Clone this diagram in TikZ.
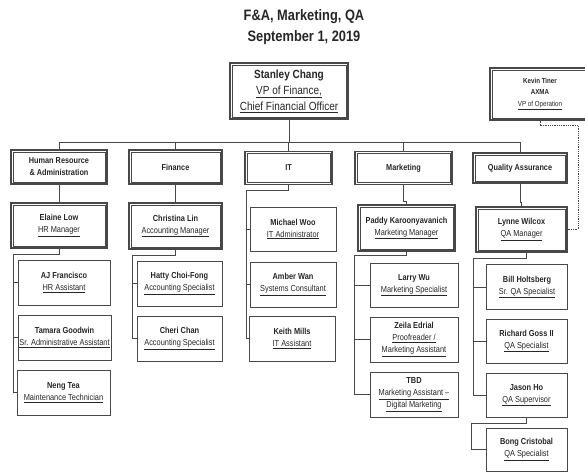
\documentclass[tikz,border=0pt]{standalone}
\usepackage{fontspec}
\setmainfont{Liberation Sans}[FakeStretch=0.85]
\usetikzlibrary{calc}

\definecolor{ink}{HTML}{262626}
\definecolor{frame}{HTML}{484848}

% a name in bold over its underlined job title
\newcommand\staff[2]{\textbf{#1}\\\underline{#2}}

\tikzset{
  lbl/.style={text=ink, align=center, inner sep=0pt, font=\fontsize{8.7}{12}\selectfont},
  dbox/.style={lbl, draw=frame, line width=1.1pt,
    path picture={\draw[frame, line width=0.5pt]
      ([shift={(2.2pt,-2.2pt)}]path picture bounding box.north west) rectangle
      ([shift={(-2.2pt,2.2pt)}]path picture bounding box.south east);}},
  sbox/.style={lbl, draw=frame, line width=0.6pt},
  deptfont/.style={font=\fontsize{8.6}{12}\selectfont\bfseries},
  link/.style={draw=frame, line width=0.6pt},
  dotlink/.style={draw=frame, line width=0.7pt, dash pattern=on 1pt off 0.8pt},
  heading/.style={text=ink, inner sep=0pt, font=\fontsize{15.1}{18}\selectfont\bfseries},
}

\begin{document}
\begin{tikzpicture}[x=1pt, y=-1pt]
\useasboundingbox (0,0) rectangle (585,472);

% heading
\node[heading] (title) at (304,17) {F\&A, Marketing, QA};
\node[heading] (date)  at (304,38) {September 1, 2019};

% top level
\node[dbox, minimum width=118pt, minimum height=56pt,
      font=\fontsize{11.8}{16}\selectfont] (vp) at (289,91)
  {\textbf{Stanley Chang}\\\underline{VP of Finance,}\\\underline{Chief Financial Officer}};
\node[dbox, minimum width=100pt, minimum height=52pt,
      font=\fontsize{7.3}{11.5}\selectfont] (kevin) at (540,94)
  {\textbf{Kevin Tiner}\\\textbf{AXMA}\\\underline{VP of Operation}};

% departments
\node[dbox, deptfont, minimum width=96pt, minimum height=34pt] (hr)  at (59,167)
  {Human Resource\\\& Administration};
\node[dbox, deptfont, minimum width=93pt, minimum height=34pt] (fin) at (175.5,167) {Finance};
\node[dbox, deptfont, minimum width=87pt, minimum height=33pt] (it)  at (288.5,168) {IT};
\node[dbox, deptfont, minimum width=97pt, minimum height=33pt] (mkt) at (403.5,168) {Marketing};
\node[dbox, deptfont, minimum width=94pt, minimum height=30pt] (qa)  at (520,168) {Quality Assurance};

% managers
\node[dbox, minimum width=96pt, minimum height=45pt] (elaine)    at (59,225.5)  {\staff{Elaine Low}{HR Manager}};
\node[dbox, minimum width=93pt, minimum height=46pt] (christina) at (175.5,226) {\staff{Christina Lin}{Accounting Manager}};
\node[dbox, minimum width=97pt, minimum height=46pt] (paddy)     at (406.5,228) {\staff{Paddy Karoonyavanich}{Marketing Manager}};
\node[dbox, minimum width=91pt, minimum height=45pt] (lynne)     at (521.5,229.5) {\staff{Lynne Wilcox}{QA Manager}};

% human resource staff
\node[sbox, minimum width=92pt, minimum height=45pt] (aj)     at (64,282.5) {\staff{AJ Francisco}{HR Assistant}};
\node[sbox, minimum width=93pt, minimum height=45pt] (tamara) at (64.5,337.5) {\staff{Tamara Goodwin}{Sr. Administrative Assistant}};
\node[sbox, minimum width=93pt, minimum height=45pt] (neng)   at (63.5,392.5) {\staff{Neng Tea}{Maintenance Technician}};

% finance staff
\node[sbox, minimum width=85pt, minimum height=45pt] (hatty) at (179.5,283.5) {\staff{Hatty Choi-Fong}{Accounting Specialist}};
\node[sbox, minimum width=85pt, minimum height=45pt] (cheri) at (179.5,338.5) {\staff{Cheri Chan}{Accounting Specialist}};

% it staff
\node[sbox, minimum width=86pt, minimum height=44pt] (michael) at (293,229)   {\staff{Michael Woo}{IT Administrator}};
\node[sbox, minimum width=86pt, minimum height=45pt] (amber)   at (293,284.5) {\staff{Amber Wan}{Systems Consultant}};
\node[sbox, minimum width=86pt, minimum height=45pt] (keith)   at (292,338.5) {\staff{Keith Mills}{IT Assistant}};

% marketing staff
\node[sbox, minimum width=88pt, minimum height=44pt] (larry) at (414,285)   {\staff{Larry Wu}{Marketing Specialist}};
\node[sbox, minimum width=88pt, minimum height=45pt] (zeila) at (414,339.5)
  {\textbf{Zeila Edrial}\\\underline{Proofreader /}\\\underline{Marketing Assistant}};
\node[sbox, minimum width=88pt, minimum height=45pt] (tbd)   at (414,394.5)
  {\textbf{TBD}\\\underline{Marketing Assistant --}\\\underline{Digital Marketing}};

% quality assurance staff
\node[sbox, minimum width=81pt, minimum height=45pt] (bill)    at (527,287)   {\staff{Bill Holtsberg}{Sr. QA Specialist}};
\node[sbox, minimum width=81pt, minimum height=44pt] (richard) at (526.5,341) {\staff{Richard Goss II}{QA Specialist}};
\node[sbox, minimum width=81pt, minimum height=44pt] (jason)   at (526.5,395) {\staff{Jason Ho}{QA Supervisor}};
\node[sbox, minimum width=81pt, minimum height=43pt] (bong)    at (526.5,449.5) {\staff{Bong Cristobal}{QA Specialist}};

% junction points of the connectors
\coordinate (bus)    at (289,142);
\coordinate (hrtop)  at (13,254);
\coordinate (fintop) at (132,255);
\coordinate (ittop)  at (246,190);
\coordinate (mkttop) at (354,255);
\coordinate (qatop)  at (473,258);
\coordinate (bongtop) at (471,423);
\coordinate (kvrail) at (578,125);

% VP to departments
\draw[link] (vp.south) -- (bus);
\foreach \d in {hr,fin,it,mkt,qa} \draw[link] (bus) -| (\d.north);

% departments to managers
\draw[link] (hr.south) -- (elaine.north);
\draw[link] (fin.south) -- (christina.north);
\draw[link] (mkt.south) -- ++(0,16) -| (paddy.north);
\draw[link] (qa.south) -- ++(0,19) -| (lynne.north);

% human resource branch
\draw[link] (elaine.south) |- (hrtop) |- (neng.west);
\draw[link] (hrtop) |- (aj.west);
\draw[link] (hrtop) |- (tamara.west);

% finance branch
\draw[link] (christina.south) |- (fintop) |- (cheri.west);
\draw[link] (fintop) |- (hatty.west);

% it branch
\draw[link] (it.south) |- (ittop) |- (keith.west);
\draw[link] (ittop) |- (michael.west);
\draw[link] (ittop) |- (amber.west);

% marketing branch
\draw[link] (paddy.south) |- (mkttop) |- (tbd.west);
\draw[link] (mkttop) |- (larry.west);
\draw[link] (mkttop) |- (zeila.west);

% quality assurance branch
\draw[link] ($(lynne.south)+(5,0)$) |- (qatop) |- (jason.west);
\draw[link] (qatop) |- (bill.west);
\draw[link] (qatop) |- (richard.west);
\draw[link] (jason.south) |- (bongtop) |- (bong.west);

% dotted reporting line
\draw[dotlink] (kevin.south) |- (kvrail) |- (lynne.east);
\end{tikzpicture}
\end{document}
